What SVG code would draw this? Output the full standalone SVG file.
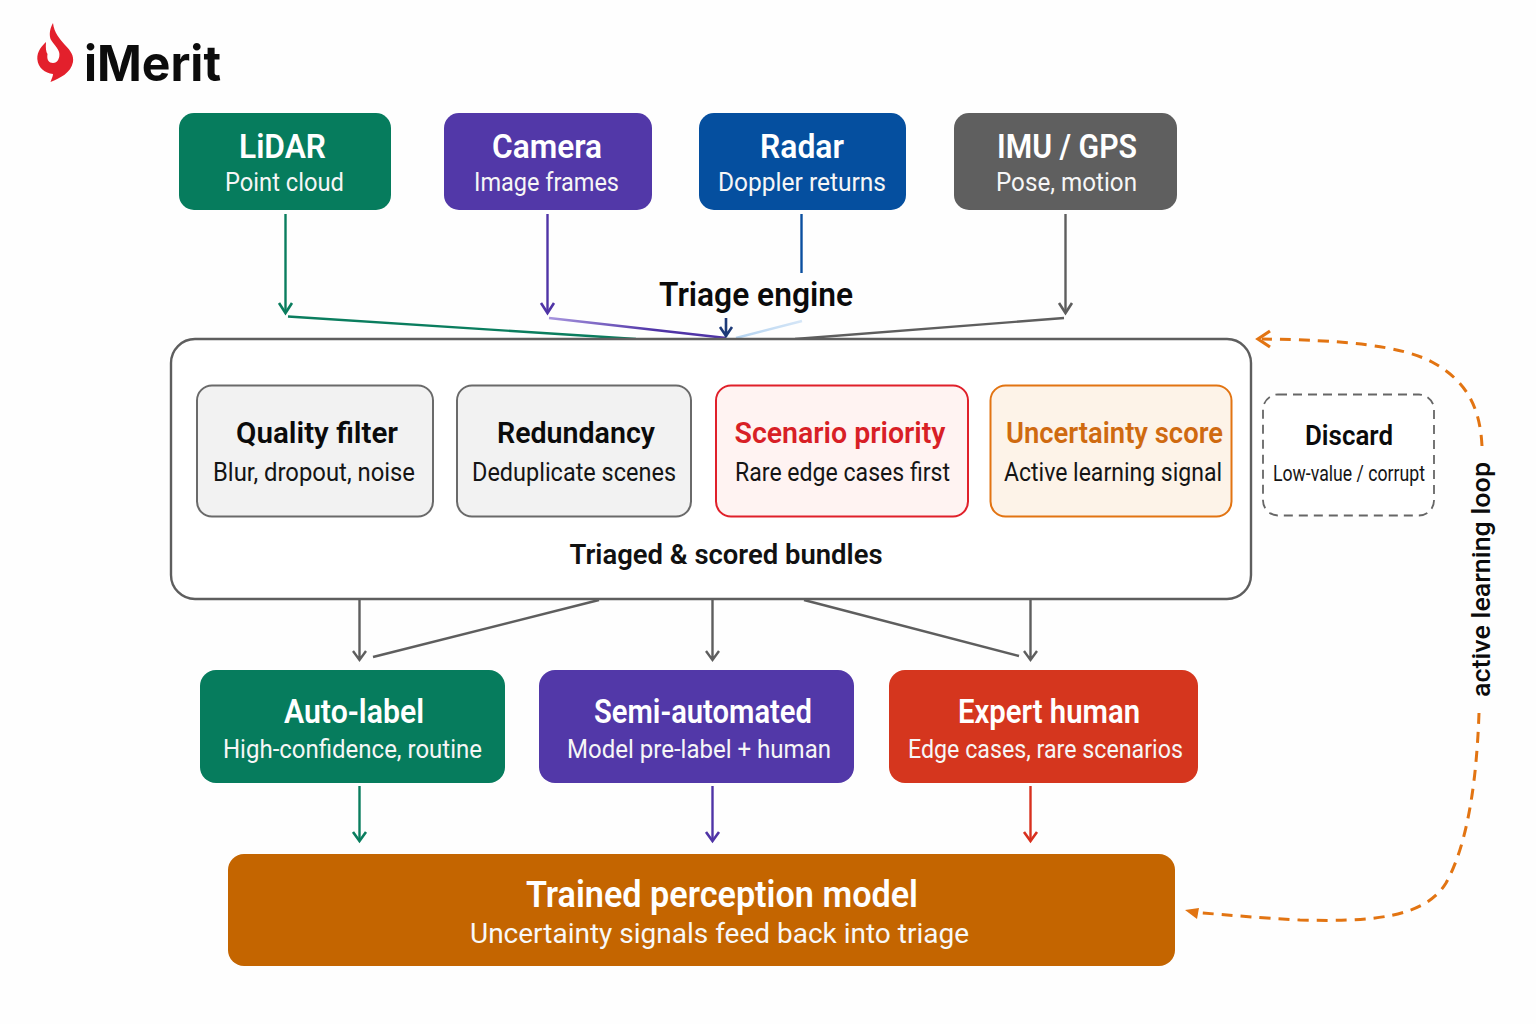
<svg xmlns="http://www.w3.org/2000/svg" width="1536" height="1024" viewBox="0 0 1536 1024">
<defs>
<linearGradient id="fade" gradientUnits="userSpaceOnUse" x1="549" y1="318" x2="726" y2="338"><stop offset="0" stop-color="#a795de"/><stop offset="0.6" stop-color="#4f34a6"/></linearGradient>
<linearGradient id="fadeb" gradientUnits="userSpaceOnUse" x1="802" y1="321" x2="736" y2="338"><stop offset="0" stop-color="#d5e6f7"/><stop offset="1" stop-color="#b4d3f0"/></linearGradient>
</defs>
<style>
text{font-family:"Roboto","Liberation Sans",sans-serif;text-anchor:middle}
.t{font-size:32.500px;font-weight:600;fill:#fff}
.s{font-size:25px;fill:#f6f6f6}
.bt{font-size:29.500px;font-weight:600;fill:#0b0b0b}
.bs{font-size:25px;fill:#151515}
.g{stroke:#5e5e5e;stroke-width:2.4;fill:none}
.c{fill:none;stroke-width:2.4}
.h{fill:none;stroke-width:2.6}
.d{fill:none;stroke:#e27412;stroke-width:3;stroke-dasharray:11 8}
</style>
<rect width="1536" height="1024" fill="#fefefe"/>
<g id="logo">
<path d="M53 23 C54 33 60 39 65 45 C71 51 74 56 73 62 C71 73 60 78 50.500 82 C52 78 53 76 53 74 C45 73 38 68 37.300 59 C37 51 42 46 46 42 C45.500 48 46 52 47.500 54 C46.500 60 49 63 53 63 C57.500 63 60 58 59.300 53 C58.500 48 53 44 50.500 39 C49 34 50 28 53 23Z" fill="#e3202c"/>
<text x="152.500" y="81" textLength="137" lengthAdjust="spacingAndGlyphs" style="font-family:'Inter','Liberation Sans',sans-serif;font-size:49px;font-weight:700;fill:#0c0c0c">iMerit</text>
</g>
<g id="connectors">
<path class="c" d="M285.500 214V312" stroke="#0a7d5e"/><path class="h" d="M279 303L285.500 313L292 303" stroke="#0a7d5e"/>
<path class="c" d="M547.500 214V312" stroke="#4f34a6"/><path class="h" d="M541 303L547.500 313L554 303" stroke="#4f34a6"/>
<path class="c" d="M801.500 214V273" stroke="#0b4f9f"/>
<path class="c" d="M1065.500 214V312" stroke="#5e5e5e"/><path class="h" d="M1059 303L1065.500 313L1072 303" stroke="#5e5e5e"/>
<path class="c" d="M288 316.500L636 339" stroke="#0a7d5e"/>
<path class="c" d="M549 318L726 338" stroke="url(#fade)"/>
<path class="c" d="M802 321L736 338" stroke="url(#fadeb)"/>
<path class="c" d="M1064 318L795 339" stroke="#5e5e5e"/>
<path class="h" d="M726 318V337M720 327L726 336L732 327" stroke="#1d3a78"/>
<path class="g" d="M359.500 600V660M353 651L359.500 660L366 651"/>
<path class="g" d="M712.500 600V660M706 651L712.500 660L719 651"/>
<path class="g" d="M1030.500 600V660M1024 651L1030.500 660L1037 651"/>
<path class="g" d="M373 657L599 600"/>
<path class="g" d="M804 600L1019 656"/>
<path class="c" d="M359.500 786V841" stroke="#0a7d5e"/><path class="h" d="M353 832L359.500 841L366 832" stroke="#0a7d5e"/>
<path class="c" d="M712.500 786V841" stroke="#4f34a6"/><path class="h" d="M706 832L712.500 841L719 832" stroke="#4f34a6"/>
<path class="c" d="M1030.500 786V841" stroke="#d8301e"/><path class="h" d="M1024 832L1030.500 841L1037 832" stroke="#d8301e"/>
<path class="d" d="M1482 446C1480 405 1465 380 1432 362C1400 345 1340 340 1262 339"/>
<path d="M1270 331L1258 339L1270 347" fill="none" stroke="#e27412" stroke-width="3.200"/>
<path class="d" d="M1479 713C1477 770 1470 840 1446 883C1425 918 1370 922 1300 920C1260 918 1230 915 1202 913"/>
<path d="M1185 910L1199 908L1197 919Z" fill="#e27412"/>
</g>
<g id="lidar"><rect x="179" y="113" width="212" height="97" rx="15" fill="#067c5d"/><text class="t" x="282.500" y="157.500" textLength="87" lengthAdjust="spacingAndGlyphs">LiDAR</text><text class="s" x="284.500" y="191" textLength="119" lengthAdjust="spacingAndGlyphs">Point cloud</text></g>
<g id="camera"><rect x="444" y="113" width="208" height="97" rx="15" fill="#5238a8"/><text class="t" x="547" y="157.500" textLength="110" lengthAdjust="spacingAndGlyphs">Camera</text><text class="s" x="546.500" y="191" textLength="145" lengthAdjust="spacingAndGlyphs">Image frames</text></g>
<g id="radar"><rect x="699" y="113" width="207" height="97" rx="15" fill="#054f9f"/><text class="t" x="802" y="157.500" textLength="84" lengthAdjust="spacingAndGlyphs">Radar</text><text class="s" x="802" y="191" textLength="168" lengthAdjust="spacingAndGlyphs">Doppler returns</text></g>
<g id="imu"><rect x="954" y="113" width="223" height="97" rx="15" fill="#5f5f5f"/><text class="t" x="1067" y="157.500" textLength="140" lengthAdjust="spacingAndGlyphs">IMU / GPS</text><text class="s" x="1066.500" y="191" textLength="141" lengthAdjust="spacingAndGlyphs">Pose, motion</text></g>
<text x="756" y="306" textLength="194" lengthAdjust="spacingAndGlyphs" style="font-size:32.500px;font-weight:600;fill:#0b0b0b">Triage engine</text>
<g id="triage-engine"><rect x="171" y="339" width="1080" height="260" rx="24" fill="#fff" stroke="#5e5e5e" stroke-width="2.400"/><text x="726" y="564" textLength="313" lengthAdjust="spacingAndGlyphs" style="font-size:28.500px;font-weight:600;fill:#111">Triaged &amp; scored bundles</text></g>
<g id="quality"><rect x="197" y="385.500" width="236" height="131" rx="15" fill="#f2f2f2" stroke="#6a6a6a" stroke-width="2"/><text class="bt" x="317" y="442.500" textLength="162" lengthAdjust="spacingAndGlyphs">Quality filter</text><text class="bs" x="314" y="481" textLength="202" lengthAdjust="spacingAndGlyphs">Blur, dropout, noise</text></g>
<g id="redundancy"><rect x="457" y="385.500" width="234" height="131" rx="15" fill="#f2f2f2" stroke="#6a6a6a" stroke-width="2"/><text class="bt" x="576" y="442.500" textLength="158" lengthAdjust="spacingAndGlyphs">Redundancy</text><text class="bs" x="574" y="481" textLength="204" lengthAdjust="spacingAndGlyphs">Deduplicate scenes</text></g>
<g id="scenario"><rect x="716" y="385.500" width="252" height="131" rx="15" fill="#fff3f2" stroke="#e0202a" stroke-width="2"/><text class="bt" x="840" y="442.500" textLength="211" lengthAdjust="spacingAndGlyphs" style="fill:#d81f26">Scenario priority</text><text class="bs" x="842.500" y="481" textLength="215" lengthAdjust="spacingAndGlyphs">Rare edge cases first</text></g>
<g id="uncertainty"><rect x="990.500" y="385.500" width="241" height="131" rx="15" fill="#fdf3e8" stroke="#e27412" stroke-width="2"/><text class="bt" x="1114.500" y="442.500" textLength="217" lengthAdjust="spacingAndGlyphs" style="fill:#cf6a10">Uncertainty score</text><text class="bs" x="1113" y="481" textLength="218" lengthAdjust="spacingAndGlyphs">Active learning signal</text></g>
<g id="discard"><rect x="1263" y="394.500" width="171" height="121" rx="15" fill="#fff" stroke="#666" stroke-width="1.800" stroke-dasharray="9 6"/><text x="1349" y="445" textLength="88" lengthAdjust="spacingAndGlyphs" style="font-size:28px;font-weight:600;fill:#0b0b0b">Discard</text><text x="1349" y="481" textLength="152" lengthAdjust="spacingAndGlyphs" style="font-size:21.500px;fill:#151515">Low-value / corrupt</text></g>
<text x="0" y="0" textLength="235" lengthAdjust="spacingAndGlyphs" transform="translate(1490 579.500) rotate(-90)" style="font-size:26.500px;font-weight:500;fill:#0b0b0b">active learning loop</text>
<g id="auto"><rect x="200" y="670" width="305" height="113" rx="16" fill="#067c5d"/><text class="t" x="354" y="723" textLength="140" lengthAdjust="spacingAndGlyphs">Auto-label</text><text class="s" x="352.500" y="758" textLength="259" lengthAdjust="spacingAndGlyphs">High-confidence, routine</text></g>
<g id="semi"><rect x="539" y="670" width="315" height="113" rx="16" fill="#5238a8"/><text class="t" x="703" y="723" textLength="218" lengthAdjust="spacingAndGlyphs">Semi-automated</text><text class="s" x="699" y="758" textLength="264" lengthAdjust="spacingAndGlyphs">Model pre-label + human</text></g>
<g id="expert"><rect x="889" y="670" width="309" height="113" rx="16" fill="#d5361e"/><text class="t" x="1049" y="723" textLength="182" lengthAdjust="spacingAndGlyphs">Expert human</text><text class="s" x="1045.500" y="758" textLength="275" lengthAdjust="spacingAndGlyphs">Edge cases, rare scenarios</text></g>
<g id="model"><rect x="228" y="854" width="947" height="112" rx="16" fill="#c46500"/><text x="722" y="907" textLength="392" lengthAdjust="spacingAndGlyphs" style="font-size:36px;font-weight:600;fill:#fff">Trained perception model</text><text x="719.500" y="943" textLength="499" lengthAdjust="spacingAndGlyphs" style="font-size:28px;fill:#f8f8f8">Uncertainty signals feed back into triage</text></g>
</svg>
